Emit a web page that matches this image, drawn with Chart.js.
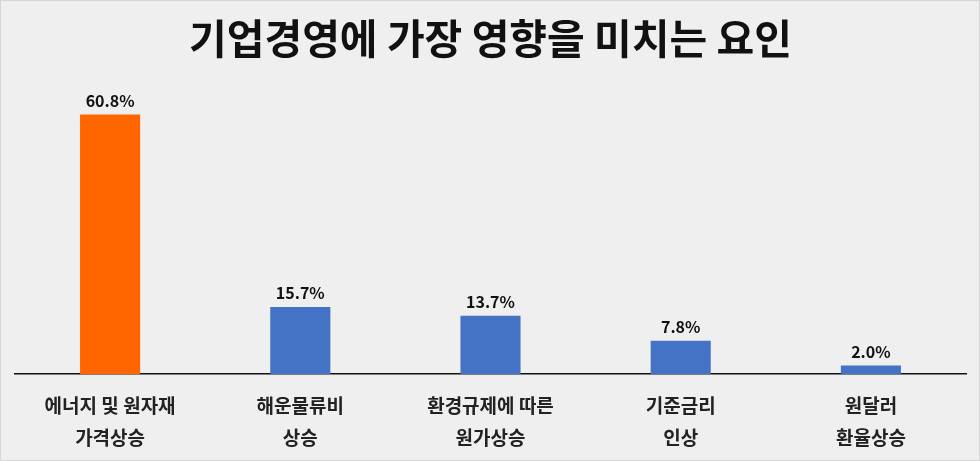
<!DOCTYPE html>
<html>
<head>
<meta charset="utf-8">
<script src="https://cdn.jsdelivr.net/npm/chart.js@4"></script>
<style>
  html, body { margin: 0; padding: 0; background: #f0f0f0; }
  #wrap { width: 978px; height: 459px; border: 1px solid #d6d6d6; background: #efefef; }
</style>
</head>
<body>
<div id="wrap"><canvas id="factorChart" width="978" height="459"></canvas></div>
<script>
// 기업경영에 가장 영향을 미치는 요인 (%)
const categories = [
    ['에너지 및 원자재', '가격상승'],
    ['해운물류비', '상승'],
    ['환경규제에 따른', '원가상승'],
    ['기준금리', '인상'],
    ['원달러', '환율상승']
];
const shares = [60.8, 15.7, 13.7, 7.8, 2.0];
const barColors = ['#ff6600', '#4472c4', '#4472c4', '#4472c4', '#4472c4'];

const FONT = "'Noto Sans CJK KR', 'Noto Sans', sans-serif";

// 막대 위 값 표시
const valueLabels = {
    id: 'valueLabels',
    afterDatasetsDraw(chart) {
        const ctx = chart.ctx;
        const meta = chart.getDatasetMeta(0);
        ctx.save();
        ctx.font = 'bold 16px ' + FONT;
        ctx.fillStyle = '#111';
        ctx.textAlign = 'center';
        ctx.textBaseline = 'middle';
        meta.data.forEach((bar, i) => {
            ctx.fillText(shares[i].toFixed(1) + '%', bar.x, bar.y - 14);
        });
        ctx.restore();
    }
};

const ctx = document.getElementById('factorChart').getContext('2d');
new Chart(ctx, {
    type: 'bar',
    data: {
        labels: categories,
        datasets: [{
            data: shares,
            backgroundColor: barColors,
            categoryPercentage: 1,
            barPercentage: 0.316
        }]
    },
    options: {
        responsive: false,
        animation: false,
        layout: { padding: { left: 14, right: 13, top: 0, bottom: -2 } },
        plugins: {
            legend: { display: false },
            tooltip: { enabled: false },
            title: {
                display: true,
                text: '기업경영에 가장 영향을 미치는 요인',
                color: '#111',
                font: { family: FONT, size: 41, weight: 'bold' },
                padding: { top: 13, bottom: 12 }
            }
        },
        scales: {
            y: {
                display: false,
                beginAtZero: true,
                max: 70
            },
            x: {
                grid: { display: false },
                border: { display: true, color: '#111', width: 1.5 },
                ticks: {
                    color: '#222',
                    font: { family: FONT, size: 19, weight: 'bold', lineHeight: 1.68 },
                    padding: 8,
                    maxRotation: 0
                }
            }
        }
    },
    plugins: [valueLabels]
});
</script>
</body>
</html>
